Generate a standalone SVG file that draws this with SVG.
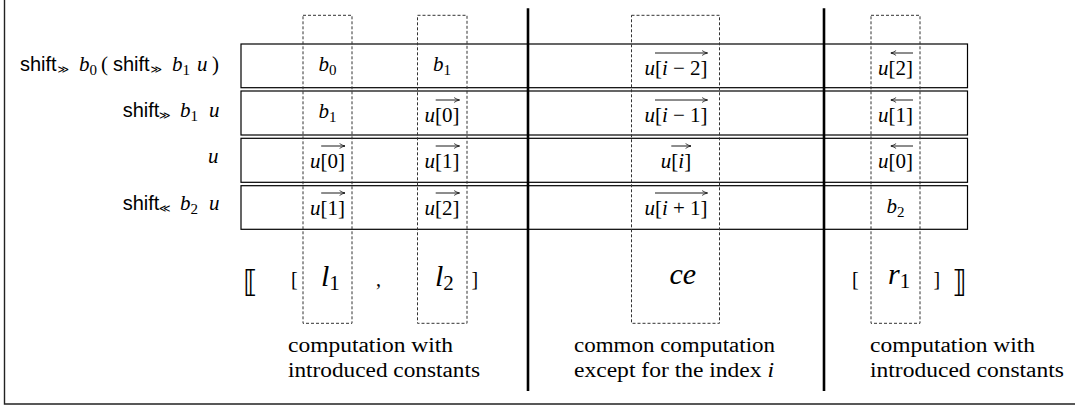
<svg xmlns="http://www.w3.org/2000/svg" width="1075" height="410" viewBox="0 0 1075 410">
<style>
.sf{font-family:"Liberation Sans",Arial,sans-serif;font-size:20px;fill:#000}
.op{font-family:"DejaVu Sans",sans-serif;font-size:11px;fill:#000}
.mi{font-family:"Liberation Serif","Times New Roman",serif;font-style:italic;font-size:21px;fill:#000}
.rm{font-family:"Liberation Serif","Times New Roman",serif;font-size:21px;fill:#000}
.sub{font-style:normal;font-size:15px}
.bsub{font-style:normal;font-size:21px}
.it{font-style:italic}
.cell{text-anchor:middle}
.row{fill:#fff;stroke:#000;stroke-width:1.2}
.dash{fill:none;stroke:#333;stroke-width:1;stroke-dasharray:3 2}
.sep{stroke:#000;stroke-width:2.6}
.frame{fill:none;stroke:#222;stroke-width:1.4}
.arr{stroke:#000;stroke-width:0.9;fill:none}
.big{font-size:30px}
.small{font-family:"Liberation Serif","Times New Roman",serif;font-size:20px;fill:#000}
.dbl{font-family:"DejaVu Sans","DejaVu Serif",sans-serif;font-size:30px;fill:#000}
.note{font-family:"Liberation Serif","Times New Roman",serif;font-size:20.8px;fill:#000}
</style>
<defs>
<marker id="ah" viewBox="0 0 10 10" refX="10" refY="5" markerWidth="6" markerHeight="6" markerUnits="userSpaceOnUse" orient="auto-start-reverse">
<path d="M1 1 Q6 4.2 10 5 Q6 5.8 1 9" fill="none" stroke="#000" stroke-width="1.2"/>
</marker>
</defs>
<path class="frame" d="M4.5 0 V404 H1075"/>

<g id="rows">
<g id="row1">
<rect class="row" x="241" y="44" width="726.5" height="43.7"/>
<text class="mi cell" x="327.5" y="71">b<tspan class="sub" dy="3.5">0</tspan></text>
<text class="mi cell" x="442" y="71">b<tspan class="sub" dy="3.5">1</tspan></text>
<text class="mi cell" x="676" y="75">u<tspan font-style="normal">[</tspan>i<tspan font-style="normal"> − 2]</tspan></text>
<line class="arr" x1="655" y1="53" x2="707.5" y2="53" marker-end="url(#ah)"/>
<text class="mi cell" x="895.5" y="75">u<tspan font-style="normal">[2]</tspan></text>
<line class="arr" x1="890.7" y1="53" x2="913" y2="53" marker-start="url(#ah)"/>
</g>
<g id="row2">
<rect class="row" x="241" y="91" width="726.5" height="44"/>
<text class="mi cell" x="327.5" y="118">b<tspan class="sub" dy="3.5">1</tspan></text>
<text class="mi cell" x="442" y="122">u<tspan font-style="normal">[0]</tspan></text>
<line class="arr" x1="435.7" y1="100" x2="459.5" y2="100" marker-end="url(#ah)"/>
<text class="mi cell" x="676" y="122">u<tspan font-style="normal">[</tspan>i<tspan font-style="normal"> − 1]</tspan></text>
<line class="arr" x1="655" y1="100" x2="707.5" y2="100" marker-end="url(#ah)"/>
<text class="mi cell" x="895.5" y="122">u<tspan font-style="normal">[1]</tspan></text>
<line class="arr" x1="890.7" y1="100" x2="913" y2="100" marker-start="url(#ah)"/>
</g>
<g id="row3">
<rect class="row" x="241" y="138.3" width="726.5" height="44"/>
<text class="mi cell" x="327.5" y="168">u<tspan font-style="normal">[0]</tspan></text>
<line class="arr" x1="321.2" y1="146" x2="345" y2="146" marker-end="url(#ah)"/>
<text class="mi cell" x="442" y="168">u<tspan font-style="normal">[1]</tspan></text>
<line class="arr" x1="435.7" y1="146" x2="459.5" y2="146" marker-end="url(#ah)"/>
<text class="mi cell" x="676" y="168">u<tspan font-style="normal">[</tspan>i<tspan font-style="normal">]</tspan></text>
<line class="arr" x1="671.3" y1="146" x2="691" y2="146" marker-end="url(#ah)"/>
<text class="mi cell" x="895.5" y="168">u<tspan font-style="normal">[0]</tspan></text>
<line class="arr" x1="890.7" y1="146" x2="913" y2="146" marker-start="url(#ah)"/>
</g>
<g id="row4">
<rect class="row" x="241" y="185.7" width="726.5" height="43.6"/>
<text class="mi cell" x="327.5" y="215">u<tspan font-style="normal">[1]</tspan></text>
<line class="arr" x1="321.2" y1="193" x2="345" y2="193" marker-end="url(#ah)"/>
<text class="mi cell" x="442" y="215">u<tspan font-style="normal">[2]</tspan></text>
<line class="arr" x1="435.7" y1="193" x2="459.5" y2="193" marker-end="url(#ah)"/>
<text class="mi cell" x="676" y="215">u<tspan font-style="normal">[</tspan>i<tspan font-style="normal"> + 1]</tspan></text>
<line class="arr" x1="655" y1="193" x2="707.5" y2="193" marker-end="url(#ah)"/>
<text class="mi cell" x="895.5" y="213">b<tspan class="sub" dy="3.5">2</tspan></text>
</g>
</g>

<g id="labels">
<g id="label1">
<text class="sf" x="20" y="71">shift</text>
<text class="op" x="57.5" y="73">≫</text>
<text class="mi" x="79" y="71">b<tspan class="sub" dy="3.5">0</tspan></text>
<text class="rm" x="101" y="71">(</text>
<text class="sf" x="113" y="71">shift</text>
<text class="op" x="150.5" y="73">≫</text>
<text class="mi" x="172" y="71">b<tspan class="sub" dy="3.5">1</tspan></text>
<text class="mi" x="197" y="71">u</text>
<text class="rm" x="212" y="71">)</text>
</g>
<g id="label2">
<text class="sf" x="122.7" y="117">shift</text>
<text class="op" x="159" y="119">≫</text>
<text class="mi" x="180" y="117">b<tspan class="sub" dy="3.5">1</tspan></text>
<text class="mi" x="209" y="117">u</text>
</g>
<g id="label3">
<text class="mi" x="208" y="163">u</text>
</g>
<g id="label4">
<text class="sf" x="122.7" y="210">shift</text>
<text class="op" x="159" y="212">≪</text>
<text class="mi" x="180" y="210">b<tspan class="sub" dy="3.5">2</tspan></text>
<text class="mi" x="209" y="210">u</text>
</g>
</g>

<g id="columns">
<rect id="col-l1" class="dash" x="303" y="15.3" width="49" height="308"/>
<rect id="col-l2" class="dash" x="417.5" y="15.3" width="49.5" height="308"/>
<rect id="col-ce" class="dash" x="631.5" y="15.3" width="88" height="308"/>
<rect id="col-r1" class="dash" x="871" y="15.3" width="49" height="308"/>
</g>

<g id="connectors">
<line class="sep" x1="528" y1="8.3" x2="528" y2="391"/>
<line class="sep" x1="824" y1="8.3" x2="824" y2="391"/>
</g>

<g id="expression">
<text class="dbl" x="243" y="292">⟦</text>
<text class="small" x="291" y="286">[</text>
<text class="mi big" x="321" y="286">l<tspan class="bsub" dy="4">1</tspan></text>
<text class="small" x="376" y="286">,</text>
<text class="mi big" x="435" y="286">l<tspan class="bsub" dy="4">2</tspan></text>
<text class="small" x="471.5" y="286">]</text>
<text class="mi big" x="669.5" y="284">ce</text>
<text class="small" x="852" y="286">[</text>
<text class="mi big" x="888" y="284">r<tspan class="bsub" dy="4">1</tspan></text>
<text class="small" x="933.5" y="286">]</text>
<text class="dbl" x="952" y="292">⟧</text>
</g>

<g id="notes">
<g id="note-left">
<text class="note" x="288" y="352" textLength="165" lengthAdjust="spacingAndGlyphs">computation with</text>
<text class="note" x="288" y="377" textLength="192" lengthAdjust="spacingAndGlyphs">introduced constants</text>
</g>
<g id="note-mid">
<text class="note" x="574" y="352" textLength="201" lengthAdjust="spacingAndGlyphs">common computation</text>
<text class="note" x="574" y="377" textLength="200" lengthAdjust="spacingAndGlyphs">except for the index <tspan class="it">i</tspan></text>
</g>
<g id="note-right">
<text class="note" x="870" y="352" textLength="165" lengthAdjust="spacingAndGlyphs">computation with</text>
<text class="note" x="870" y="377" textLength="194" lengthAdjust="spacingAndGlyphs">introduced constants</text>
</g>
</g>
</svg>
